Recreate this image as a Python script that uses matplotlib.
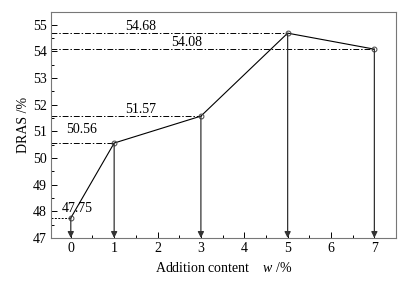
import matplotlib.pyplot as plt
import numpy as np

content = [0, 1, 3, 5, 7]
dras = [47.75, 50.56, 51.57, 54.68, 54.08]
labels = ['47.75', '50.56', '51.57', '54.68', '54.08']
label_x = [0.14, 0.25, 1.6, 1.6, 2.68]
label_dy = [0.12, 0.28, 0.02, 0.02, 0.0]

plt.rcParams['font.family'] = 'Liberation Serif'
plt.rcParams['mathtext.fontset'] = 'custom'
plt.rcParams['mathtext.it'] = 'Liberation Serif:italic'
plt.rcParams['font.size'] = 10

fig = plt.figure(figsize=(4.1, 2.81), dpi=100)
ax = fig.add_axes([0.124, 0.153, 0.842, 0.804])

xmin, ymin = -0.46, 47
ax.set_xlim(xmin, 7.5)
ax.set_ylim(ymin, 55.47)

# guide lines to the y axis
for i, (x, y) in enumerate(zip(content, dras)):
    ls = (0, (2, 1.5)) if i == 0 else (0, (6, 2, 1.5, 2))
    ax.plot([xmin, x], [y, y], color='black', lw=0.7, ls=ls)
    ax.annotate('', xy=(x, ymin), xytext=(x, y),
                arrowprops=dict(arrowstyle='-|>', color='#333333', lw=0.9,
                                mutation_scale=9, shrinkA=0, shrinkB=0))
    ax.text(label_x[i], y + label_dy[i], labels[i], ha='center', va='bottom')

ax.plot(content, dras, color='black', lw=0.8, marker='o', ms=3.5,
        mfc='none', mec='#444444', mew=0.7)

ax.set_xticks(np.arange(0, 8))
ax.set_yticks(np.arange(47, 56))
ax.set_xticks(np.arange(0.5, 7.5, 1), minor=True)
ax.set_yticks(np.arange(47.5, 55.5, 1), minor=True)
ax.tick_params(direction='in', which='major', length=4, width=0.7, pad=3)
ax.tick_params(direction='in', which='minor', length=2, width=0.7)
for s in ax.spines.values():
    s.set_color('#777777')
    s.set_linewidth(0.8)

ax.set_ylabel('DRAS /%', labelpad=2)
ax.set_xlabel('Addition content    $w$ /%', labelpad=4)

fig.savefig('out.png', dpi=100)
